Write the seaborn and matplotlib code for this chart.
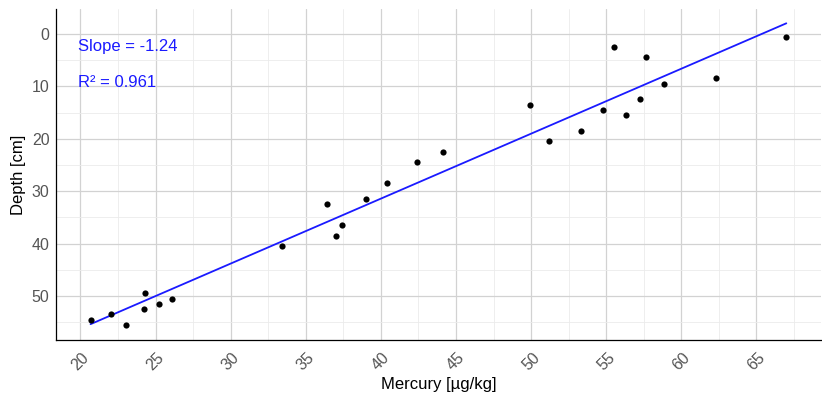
import matplotlib
matplotlib.use("Agg")
import matplotlib.pyplot as plt
from matplotlib.ticker import MultipleLocator
import pandas as pd
import seaborn as sns

# Sediment core: mercury concentration by depth
mercury = [20.67, 22.00, 23.06, 24.21, 24.30, 25.21, 26.10, 33.42, 36.41,
           37.01, 37.41, 38.98, 40.41, 42.38, 44.11, 49.92, 51.18, 53.29,
           54.80, 55.49, 56.31, 57.26, 57.68, 58.88, 62.30, 66.99]
depth = [54.5, 53.5, 55.5, 52.5, 49.5, 51.5, 50.5, 40.5, 32.5,
         38.5, 36.5, 31.5, 28.5, 24.5, 22.5, 13.5, 20.5, 18.5,
         14.5, 2.5, 15.5, 12.5, 4.5, 9.5, 8.5, 0.5]

x_ticks = [20, 25, 30, 35, 40, 45, 50, 55, 60, 65]
y_ticks = [0, 10, 20, 30, 40, 50]

slope_label = "Slope = -1.24"
r2_label = "R\u00b2 = 0.961"

df = pd.DataFrame({"mercury": mercury, "depth": depth})

sns.set_theme(style="white")
plt.rcParams["font.family"] = ["Liberation Sans", "DejaVu Sans"]

fig = plt.figure(figsize=(8.22, 3.94), dpi=100)
ax = fig.add_axes([55.7 / 822, 1 - 340 / 394, (821 - 55.7) / 822, (340 - 9) / 394])

# Least-squares fit of depth on mercury, drawn over the data range
sns.regplot(data=df, x="mercury", y="depth", ax=ax, scatter=False, ci=None,
            color="#1A1AFF", line_kws=dict(lw=1.3))
sns.scatterplot(data=df, x="mercury", y="depth", ax=ax, color="black",
                s=20, linewidth=0, zorder=3)

ax.set_xlim(18.35, 69.3)
ax.set_ylim(58.4, -4.75)

ax.set_xticks(x_ticks)
ax.set_yticks(y_ticks)
ax.xaxis.set_minor_locator(MultipleLocator(2.5))
ax.yaxis.set_minor_locator(MultipleLocator(5))

ax.set_axisbelow(True)
ax.grid(which="major", color="#D2D2D2", lw=0.9)
ax.grid(which="minor", color="#EBEBEB", lw=0.6)

for side in ("top", "right"):
    ax.spines[side].set_visible(False)
for side in ("left", "bottom"):
    ax.spines[side].set_color("black")
    ax.spines[side].set_linewidth(0.9)

ax.tick_params(which="major", direction="out", length=3, width=0.8,
               color="#333333", labelcolor="#555555", labelsize=11.5)
ax.tick_params(axis="x", which="major", pad=4)
ax.tick_params(axis="y", which="major", pad=1.5)
ax.tick_params(which="minor", length=0)
for lab in ax.get_xticklabels():
    lab.set_rotation(45)
    lab.set_ha("center")

ax.set_xlabel("Mercury [\u00b5g/kg]", fontsize=12, color="black", labelpad=3)
ax.set_ylabel("Depth [cm]", fontsize=12, color="black", labelpad=4)

ax.text(19.85, 3.2, slope_label, color="#1A1AFF", fontsize=12,
        ha="left", va="baseline")
ax.text(19.85, 10.2, r2_label, color="#1A1AFF", fontsize=12,
        ha="left", va="baseline")

fig.savefig("out.png", dpi=100)
